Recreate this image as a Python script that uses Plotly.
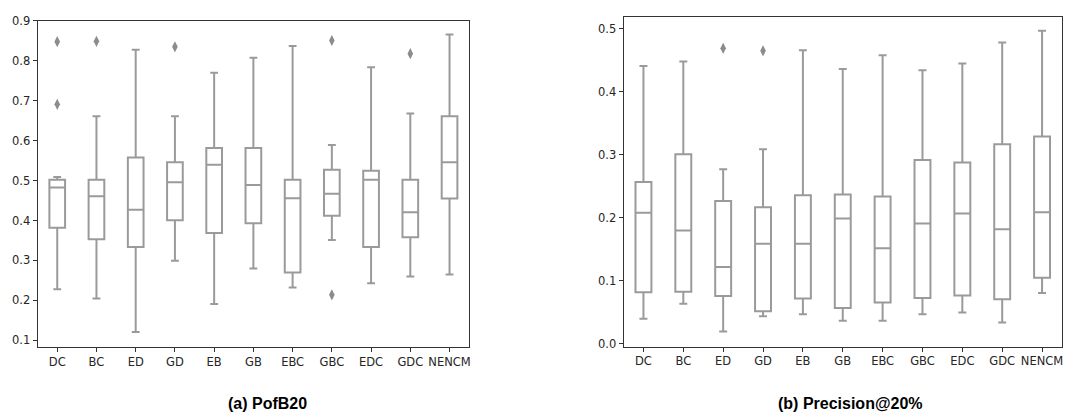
import plotly.graph_objects as go

categories = ["DC", "BC", "ED", "GD", "EB", "GB", "EBC", "GBC", "EDC", "GDC", "NENCM"]

# (a) PofB20
a_lower = [0.228, 0.205, 0.121, 0.299, 0.191, 0.280, 0.232, 0.351, 0.243, 0.260, 0.265]
a_q1 = [0.382, 0.353, 0.334, 0.401, 0.369, 0.393, 0.270, 0.412, 0.334, 0.358, 0.455]
a_median = [0.483, 0.461, 0.427, 0.496, 0.540, 0.489, 0.456, 0.467, 0.502, 0.421, 0.546]
a_q3 = [0.502, 0.502, 0.558, 0.546, 0.582, 0.582, 0.502, 0.527, 0.525, 0.502, 0.661]
a_upper = [0.509, 0.661, 0.828, 0.661, 0.770, 0.808, 0.837, 0.589, 0.784, 0.668, 0.866]
a_out_cat = ["DC", "DC", "BC", "GD", "GBC", "GBC", "GDC"]
a_out_val = [0.848, 0.691, 0.849, 0.835, 0.851, 0.214, 0.818]

# (b) Precision@20%
b_lower = [0.040, 0.064, 0.020, 0.044, 0.047, 0.037, 0.037, 0.047, 0.050, 0.034, 0.081]
b_q1 = [0.082, 0.083, 0.076, 0.052, 0.072, 0.057, 0.066, 0.073, 0.077, 0.071, 0.105]
b_median = [0.208, 0.180, 0.122, 0.159, 0.159, 0.199, 0.152, 0.191, 0.207, 0.182, 0.209]
b_q3 = [0.257, 0.301, 0.227, 0.217, 0.236, 0.237, 0.234, 0.292, 0.288, 0.317, 0.329]
b_upper = [0.441, 0.448, 0.277, 0.309, 0.466, 0.436, 0.458, 0.434, 0.445, 0.478, 0.497]
b_out_cat = ["ED", "GD"]
b_out_val = [0.469, 0.465]

BOX_COLOR = "#9a9a9a"
SPINE = "#333333"
TEXT = "#262626"

fig = go.Figure()

def add_panel(xa, ya, lower, q1, med, q3, upper, ocat, oval):
    fig.add_trace(go.Box(
        x=categories, lowerfence=lower, q1=q1, median=med, q3=q3, upperfence=upper,
        xaxis=xa, yaxis=ya, width=0.4, whiskerwidth=0.5,
        line=dict(color=BOX_COLOR, width=2), fillcolor="white",
        boxpoints=False, showlegend=False, hoverinfo="y",
    ))
    fig.add_trace(go.Scatter(
        x=ocat, y=oval, xaxis=xa, yaxis=ya, mode="markers",
        marker=dict(symbol="diamond-tall", size=8, color="#8c8c8c",
                    line=dict(width=0)),
        showlegend=False,
    ))

add_panel("x", "y", a_lower, a_q1, a_median, a_q3, a_upper, a_out_cat, a_out_val)
add_panel("x2", "y2", b_lower, b_q1, b_median, b_q3, b_upper, b_out_cat, b_out_val)

axis_common = dict(
    showline=True, mirror=True, linecolor=SPINE, linewidth=1,
    ticks="outside", ticklen=4, tickcolor=SPINE, tickwidth=1,
    showgrid=False, zeroline=False,
    tickfont=dict(family="DejaVu Sans", size=11.5, color=TEXT),
)

fig.update_layout(
    width=1086, height=418,
    margin=dict(l=0, r=0, t=0, b=0),
    plot_bgcolor="white", paper_bgcolor="white",
    xaxis=dict(domain=[0.0347, 0.4328], anchor="y", type="category",
               categoryorder="array", categoryarray=categories,
               range=[-0.5, 10.5], **axis_common),
    yaxis=dict(domain=[0.1634, 0.9658], anchor="x", range=[0.082, 0.9],
               tickvals=[0.1, 0.2, 0.3, 0.4, 0.5, 0.6, 0.7, 0.8, 0.9],
               ticktext=["0.1", "0.2", "0.3", "0.4", "0.5", "0.6", "0.7", "0.8", "0.9"],
               **axis_common),
    xaxis2=dict(domain=[0.5752, 0.9797], anchor="y2", type="category",
                categoryorder="array", categoryarray=categories,
                range=[-0.5, 10.5], **axis_common),
    yaxis2=dict(domain=[0.1658, 0.976], anchor="x2", range=[-0.004, 0.519],
                tickvals=[0.0, 0.1, 0.2, 0.3, 0.4, 0.5],
                ticktext=["0.0", "0.1", "0.2", "0.3", "0.4", "0.5"],
                **axis_common),
    annotations=[
        dict(text="<b>(a) PofB20</b>", x=268 / 1086, y=1 - 407 / 418,
             xref="paper", yref="paper", showarrow=False,
             xanchor="center", yanchor="middle",
             font=dict(family="Liberation Sans", size=16, color="black")),
        dict(text="<b>(b) Precision@20%</b>", x=852 / 1086, y=1 - 407 / 418,
             xref="paper", yref="paper", showarrow=False,
             xanchor="center", yanchor="middle",
             font=dict(family="Liberation Sans", size=16, color="black")),
    ],
)

fig.write_html("out.html")
